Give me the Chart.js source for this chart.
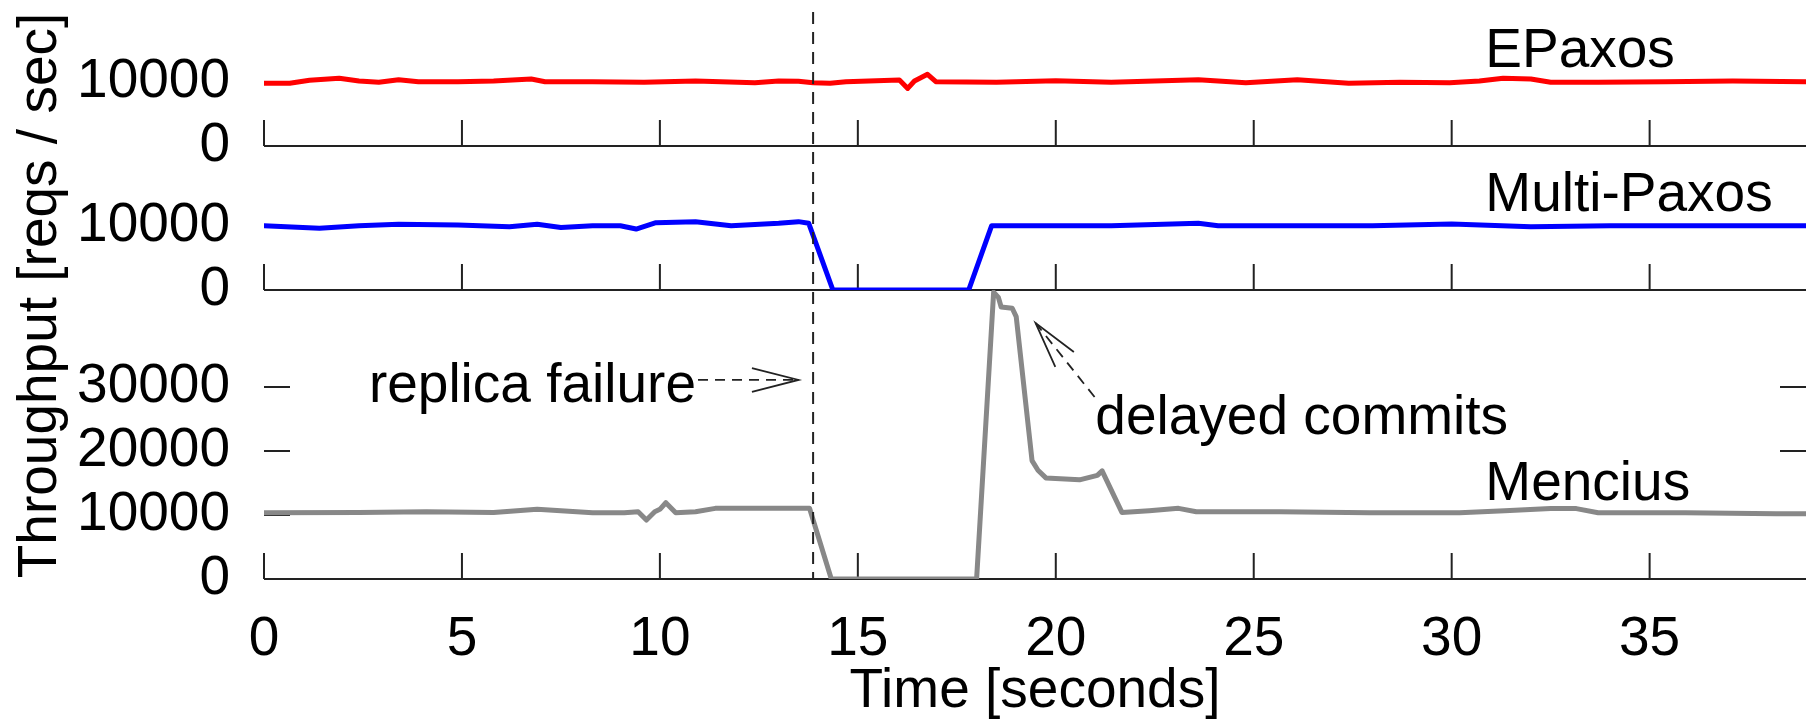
<!DOCTYPE html>
<html lang="en">
<head>
    <meta charset="UTF-8">
    <title>Throughput during replica failure</title>
    <script src="https://cdn.jsdelivr.net/npm/chart.js"></script>
    <style>
        html, body { margin: 0; padding: 0; background: #fff; }
        canvas { display: block; }
    </style>
</head>
<body>
    <canvas id="throughputChart" width="1806" height="721"></canvas>
    <script>
        // tick values
        const timeTicks = [0, 5, 10, 15, 20, 25, 30, 35];
        const smallTicks = [0, 10000];
        const menciusTicks = [0, 10000, 20000, 30000];
        const failureTime = 13.87;

        // EPaxos (reqs/sec)
        const epaxosTime = [0, 0.65, 1.15, 1.9, 2.4, 2.9, 3.4, 3.9, 4.9, 5.8,
            6.75, 7.1, 8.3, 9.6, 10.9, 12.4, 13.0, 13.5, 13.87, 14.3,
            14.7, 16.05, 16.26, 16.43, 16.76, 16.97, 18.5, 20.0, 21.4, 23.6,
            24.8, 26.1, 27.4, 28.7, 29.95, 30.7, 31.3, 32.0, 32.5, 33.7,
            35.4, 37.1, 38.95];
        const epaxosReqs = [9800, 9800, 10260, 10570, 10150, 9950, 10360, 10050, 10050, 10150,
            10470, 10050, 10050, 9950, 10150, 9900, 10150, 10100, 9900, 9800,
            10050, 10300, 9000, 10150, 11200, 10050, 9950, 10200, 9950, 10360,
            9900, 10360, 9800, 9950, 9900, 10150, 10570, 10470, 9950, 9950,
            10050, 10150, 10050];

        // Multi-Paxos
        const multiTime = [0, 1.4, 2.4, 3.4, 4.9, 6.2, 6.9, 7.5, 8.3, 9.0,
            9.4, 9.9, 10.9, 11.8, 13.0, 13.5, 13.76, 14.37, 17.8, 18.38,
            18.6, 21.4, 23.6, 24.1, 26.1, 28.0, 30.0, 32.0, 34.0, 36.0,
            38.95];
        const multiReqs = [10050, 9640, 10050, 10260, 10150, 9900, 10260, 9750, 10050, 10050,
            9530, 10520, 10680, 10050, 10420, 10680, 10420, 0, 0, 10050,
            10050, 10050, 10420, 10050, 10050, 10050, 10300, 9900, 10050, 10050,
            10050];

        // Mencius
        const menciusTime = [0, 2.4, 4.1, 5.8, 6.9, 8.3, 9.1, 9.45, 9.66, 9.87,
            10.0, 10.15, 10.4, 10.9, 11.4, 12.9, 13.78, 14.33, 18.0, 18.43,
            18.55, 18.62, 18.9, 19.0, 19.4, 19.55, 19.75, 20.6, 21.05, 21.17,
            21.67, 22.36, 23.1, 23.55, 25.66, 27.93, 30.2, 31.34, 32.5, 33.15,
            33.7, 35.9, 38.2, 38.95];
        const menciusReqs = [10360, 10400, 10520, 10400, 10890, 10360, 10360, 10520, 9220, 10520,
            10890, 11920, 10360, 10520, 11040, 11040, 11040, 0, 0, 44800,
            44000, 42500, 42300, 41000, 18500, 17000, 15800, 15500, 16200, 16900,
            10400, 10680, 11040, 10500, 10500, 10360, 10360, 10680, 11000, 11000,
            10360, 10360, 10200, 10200];

        const FONT = '"Liberation Sans", Arial, Helvetica, sans-serif';
        const SIZE = 55;
        const INK = '#000';
        const AXIS = '#222';
        const TICK_LEN = 26;

        function points(xs, ys) {
            return xs.map((x, i) => ({x: x, y: ys[i]}));
        }

        function setTicks(values) {
            return scale => { scale.ticks = values.map(v => ({value: v})); };
        }

        function yAxis(values, max, stackWeight, weight) {
            return {
                type: 'linear',
                axis: 'y',
                position: 'left',
                stack: 'panels',
                stackWeight: stackWeight,
                weight: weight,
                min: 0,
                max: max,
                afterBuildTicks: setTicks(values),
                afterFit: scale => {
                    scale.width = 264;
                    // labels may overhang the panel edges, keep the stack tight
                    scale.paddingTop = 0;
                    scale.paddingBottom = 0;
                },
                ticks: {
                    autoSkip: false,
                    padding: 34,
                    color: INK,
                    font: {family: FONT, size: SIZE, lineHeight: 1},
                    callback: v => String(v)
                },
                grid: {display: false, drawTicks: false},
                border: {display: false}
            };
        }

        // baselines and inward tick marks for each panel
        const panelFrame = {
            id: 'panelFrame',
            beforeDatasetsDraw(chart) {
                const {ctx, chartArea: a, scales} = chart;
                ctx.save();
                ctx.strokeStyle = AXIS;
                ctx.lineWidth = 2;
                ctx.beginPath();
                for (const id of ['yE', 'yM', 'yC']) {
                    const s = scales[id];
                    const y0 = s.getPixelForValue(0);
                    ctx.moveTo(a.left, y0);
                    ctx.lineTo(a.right, y0);
                    for (const v of timeTicks) {
                        const px = scales.x.getPixelForValue(v);
                        ctx.moveTo(px, y0);
                        ctx.lineTo(px, y0 - TICK_LEN);
                    }
                    for (const t of s.ticks) {
                        const py = s.getPixelForValue(t.value);
                        ctx.moveTo(a.left, py);
                        ctx.lineTo(a.left + TICK_LEN, py);
                        ctx.moveTo(a.right, py);
                        ctx.lineTo(a.right - TICK_LEN, py);
                    }
                }
                ctx.stroke();
                ctx.restore();
            }
        };

        function dashedArrow(ctx, x1, y1, x2, y2) {
            ctx.setLineDash([10, 7]);
            ctx.beginPath();
            ctx.moveTo(x1, y1);
            ctx.lineTo(x2, y2);
            ctx.stroke();
            ctx.setLineDash([]);
            const ang = Math.atan2(y2 - y1, x2 - x1);
            const len = 48, spread = 0.25;
            ctx.beginPath();
            ctx.moveTo(x2 - len * Math.cos(ang - spread), y2 - len * Math.sin(ang - spread));
            ctx.lineTo(x2, y2);
            ctx.lineTo(x2 - len * Math.cos(ang + spread), y2 - len * Math.sin(ang + spread));
            ctx.stroke();
        }

        // labels, failure marker, arrows, y title
        const annotations = {
            id: 'annotations',
            afterDatasetsDraw(chart) {
                const {ctx, chartArea: a, scales} = chart;
                const x = scales.x, yE = scales.yE, yM = scales.yM, yC = scales.yC;
                ctx.save();

                // replica failure marker
                ctx.strokeStyle = AXIS;
                ctx.lineWidth = 2;
                ctx.setLineDash([12, 8]);
                const fx = x.getPixelForValue(failureTime);
                ctx.beginPath();
                ctx.moveTo(fx, a.top);
                ctx.lineTo(fx, yC.getPixelForValue(0));
                ctx.stroke();
                ctx.setLineDash([]);

                ctx.fillStyle = INK;
                ctx.font = SIZE + 'px ' + FONT;
                ctx.textBaseline = 'middle';
                ctx.textAlign = 'left';

                const keyX = x.getPixelForValue(30.85);
                ctx.fillText('EPaxos', keyX, yE.getPixelForValue(14700));
                ctx.fillText('Multi-Paxos', keyX, yM.getPixelForValue(14700));
                ctx.fillText('Mencius', keyX, yC.getPixelForValue(14700));

                const rfX = x.getPixelForValue(2.65);
                const rfY = yC.getPixelForValue(30000);
                ctx.fillText('replica failure', rfX, rfY);
                const rfEnd = rfX + ctx.measureText('replica failure').width + 2;
                ctx.lineWidth = 1.8;
                dashedArrow(ctx, rfEnd, yC.getPixelForValue(31100),
                    x.getPixelForValue(13.5), yC.getPixelForValue(31100));

                ctx.fillText('delayed commits', x.getPixelForValue(21.0), yC.getPixelForValue(25000));
                dashedArrow(ctx, x.getPixelForValue(20.98), yC.getPixelForValue(28440),
                    x.getPixelForValue(19.49), yC.getPixelForValue(40000));

                // shared y title
                ctx.translate(41, (a.top + a.bottom) / 2);
                ctx.rotate(-Math.PI / 2);
                ctx.textAlign = 'center';
                ctx.fillText('Throughput [reqs / sec]', 0, 0);
                ctx.restore();
            }
        };

        const lineStyle = {
            borderWidth: 5,
            pointRadius: 0,
            tension: 0,
            borderJoinStyle: 'round',
            borderCapStyle: 'round',
            fill: false
        };

        const ctx = document.getElementById('throughputChart');
        const chart = new Chart(ctx, {
            type: 'line',
            data: {
                datasets: [
                    Object.assign({label: 'EPaxos', data: points(epaxosTime, epaxosReqs),
                        yAxisID: 'yE', borderColor: '#ff0000'}, lineStyle),
                    Object.assign({label: 'Multi-Paxos', data: points(multiTime, multiReqs),
                        yAxisID: 'yM', borderColor: '#0000ff'}, lineStyle),
                    Object.assign({label: 'Mencius', data: points(menciusTime, menciusReqs),
                        yAxisID: 'yC', borderColor: '#888888'}, lineStyle)
                ]
            },
            options: {
                responsive: false,
                animation: false,
                layout: {padding: {top: 12, right: 0, bottom: 0, left: 0}},
                plugins: {
                    legend: {display: false},
                    tooltip: {enabled: false}
                },
                scales: {
                    x: {
                        type: 'linear',
                        position: 'bottom',
                        min: 0,
                        max: 38.95,
                        afterBuildTicks: setTicks(timeTicks),
                        afterFit: scale => {
                            scale.height = 142;
                            scale.paddingLeft = 0;
                            scale.paddingRight = 0;
                        },
                        ticks: {
                            padding: 33,
                            color: INK,
                            maxRotation: 0,
                            autoSkip: false,
                            font: {family: FONT, size: SIZE, lineHeight: 1},
                            callback: v => String(v)
                        },
                        grid: {display: false, drawTicks: false},
                        border: {display: false},
                        title: {
                            display: true,
                            text: 'Time [seconds]',
                            color: INK,
                            font: {family: FONT, size: SIZE, lineHeight: 1},
                            padding: {top: 0, bottom: 2}
                        }
                    },
                    yE: yAxis(smallTicks, 20937.5, 134, 3),
                    yM: yAxis(smallTicks, 22500, 144, 2),
                    yC: yAxis(menciusTicks, 45156.25, 289, 1)
                }
            },
            plugins: [panelFrame, annotations]
        });
    </script>
</body>
</html>
